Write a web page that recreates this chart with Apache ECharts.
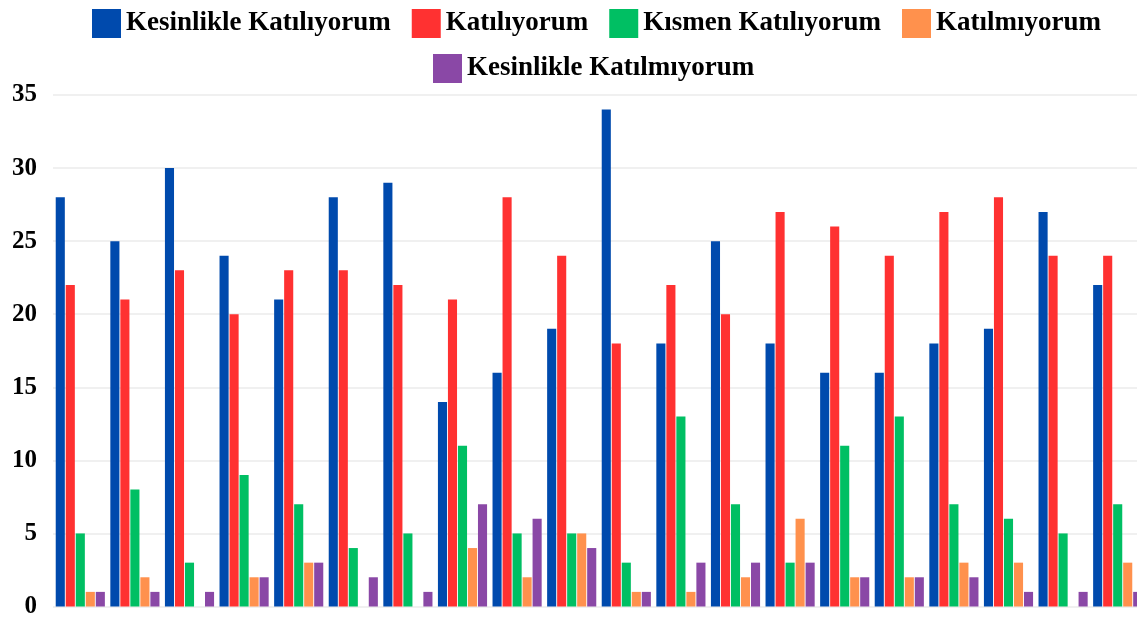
<!DOCTYPE html>
<html>
<head>
<meta charset="utf-8">
<script src="https://cdn.jsdelivr.net/npm/echarts@6/dist/echarts.min.js"></script>
<style>
html,body{margin:0;padding:0;width:1137px;height:622px;overflow:hidden;background:#fff;}
#chart{width:1146px;height:622px;}
</style>
</head>
<body>
<div id="chart"></div>
<script>
const categories = ['1','2','3','4','5','6','7','8','9','10','11','12','13','14','15','16','17','18','19','20'];
const seriesNames = ['Kesinlikle Katılıyorum','Katılıyorum','Kısmen Katılıyorum','Katılmıyorum','Kesinlikle Katılmıyorum'];
const kesinlikleKatiliyorum = [28,25,30,24,21,28,29,14,16,19,34,18,25,18,16,16,18,19,27,22];
const katiliyorum          = [22,21,23,20,23,23,22,21,28,24,18,22,20,27,26,24,27,28,24,24];
const kismenKatiliyorum    = [5,8,3,9,7,4,5,11,5,5,3,13,7,3,11,13,7,6,5,7];
const katilmiyorum         = [1,2,0,2,3,0,0,4,2,5,1,1,2,6,2,2,3,3,0,3];
const kesinlikleKatilmiyorum = [1,1,1,2,3,2,1,7,6,4,1,3,3,3,2,2,2,1,1,1];
const yTicks = [0,5,10,15,20,25,30,35];

const colors = ['#004aad','#ff3131','#00bf63','#ff914d','#8a48a6'];
const values = [kesinlikleKatiliyorum,katiliyorum,kismenKatiliyorum,katilmiyorum,kesinlikleKatilmiyorum];
const FONT = '"Liberation Serif", "DejaVu Serif", serif';

const chart = echarts.init(document.getElementById('chart'), null, {renderer:'canvas'});
const legendText = {fontFamily: FONT, fontWeight: 'bold', fontSize: 27, color: '#000'};
chart.setOption({
  animation: false,
  color: colors,
  legend: [
    {data: seriesNames.slice(0,4), left: 92, top: 9, padding: 0, itemWidth: 29, itemHeight: 29, itemGap: 21,
     icon: 'rect', textStyle: legendText, selectedMode: false},
    {data: seriesNames.slice(4), left: 433, top: 54, padding: 0, itemWidth: 29, itemHeight: 29,
     icon: 'rect', textStyle: legendText, selectedMode: false}
  ],
  grid: {left: 53, right: 1, top: 95, bottom: 15.5, containLabel: false},
  xAxis: {
    type: 'category', data: categories,
    axisLine: {show: false}, axisTick: {show: false}, axisLabel: {show: false}
  },
  yAxis: {
    type: 'value', min: yTicks[0], max: yTicks[yTicks.length-1], interval: 5,
    axisLine: {show: false}, axisTick: {show: false},
    axisLabel: {margin: 16, fontFamily: FONT, fontWeight: 'bold', fontSize: 25, color: '#000'},
    splitLine: {lineStyle: {color: '#ebebeb', width: 1.5}}
  },
  series: seriesNames.map((n,i) => ({
    name: n, type: 'bar', data: values[i],
    barGap: '10%', barCategoryGap: '10%',
    itemStyle: {color: colors[i]}
  }))
});
</script>
</body>
</html>
